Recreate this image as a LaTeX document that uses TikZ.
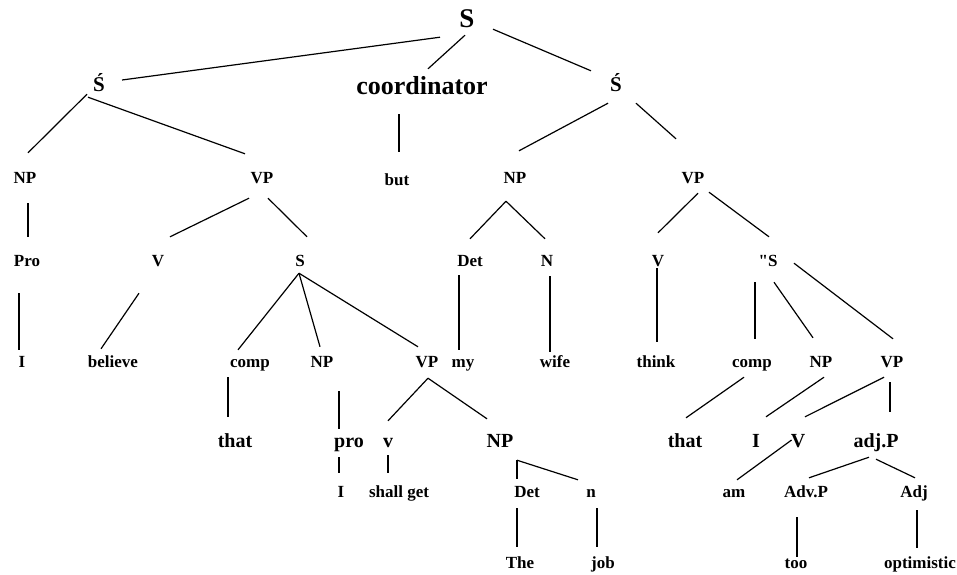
\documentclass[tikz,border=0pt]{standalone}
\usepackage{fontspec}
\setmainfont{Liberation Serif}
\newfontfamily\rawserif{Liberation Serif}
\tikzset{
  cat/.style={
    font=\bfseries\fontsize{17}{20}\selectfont,
    inner xsep=1pt, inner ysep=0pt,
    minimum height=34pt,
    text height=12pt, text depth=4pt
  },
  wordcat/.style={cat, font=\bfseries\fontsize{20}{24}\selectfont,
    text height=14pt, text depth=4pt},
  clausecat/.style={cat, font=\bfseries\fontsize{21}{25}\selectfont,
    text height=15pt, text depth=5pt},
  conjcat/.style={cat, font=\bfseries\fontsize{26}{30}\selectfont,
    text height=18pt, text depth=5pt},
  rootcat/.style={cat, font=\bfseries\fontsize{27}{32}\selectfont,
    text height=19pt, text depth=5pt},
  br/.style={line width=1.2pt, black},
}

\begin{document}
\begin{tikzpicture}[x=1pt,y=-1pt]
  \useasboundingbox (0,0) rectangle (957,574);

  % top levels
  \node (s0) [rootcat]   at (467,20) {S};
  \node (sl) [clausecat] at (99,86)  {Ś};
  \node (co) [conjcat]   at (422,88) {coordinator};
  \node (sr) [clausecat] at (616,86) {Ś};

  \node (npa) [cat] at (25,179)  {NP};
  \node (vpa) [cat] at (262,179) {VP};
  \node (but) [cat] at (397,181) {but};
  \node (npb) [cat] at (515,179) {NP};
  \node (vpb) [cat] at (693,179) {VP};

  \node (pro)  [cat] at (27,262)  {Pro};
  \node (va)   [cat] at (158,262) {V};
  \node (sa)   [cat] at (300,262) {S};
  \node (deta) [cat] at (470,262) {Det};
  \node (na)   [cat] at (547,262) {N};
  \node (vb)   [cat] at (658,262) {V};
  \node (sb)   [cat] at (768,262) {{\rawserif\bfseries\symbol{34}}S};

  \node (ia)    [cat] at (22,363)  {I};
  \node (bel)   [cat] at (113,363) {believe};
  \node (compa) [cat] at (250,363) {comp};
  \node (npc)   [cat] at (322,363) {NP};
  \node (vpc)   [cat] at (427,363) {VP};
  \node (my)    [cat] at (463,363) {my};
  \node (wife)  [cat] at (555,363) {wife};
  \node (think) [cat] at (656,363) {think};
  \node (compb) [cat] at (752,363) {comp};
  \node (npd)   [cat] at (821,363) {NP};
  \node (vpd)   [cat] at (892,363) {VP};

  \node (thata) [wordcat] at (235,442) {that};
  \node (prob)  [wordcat] at (349,442) {pro};
  \node (vc)    [wordcat] at (388,442) {v};
  \node (npe)   [wordcat] at (500,442) {NP};
  \node (thatb) [wordcat] at (685,442) {that};
  \node (ib)    [wordcat] at (756,442) {I};
  \node (vd)    [wordcat] at (798,442) {V};
  \node (adjp)  [wordcat] at (876,442) {adj.P};

  \node (ic)   [cat] at (341,493) {I};
  \node (shg)  [cat] at (399,493) {shall get};
  \node (detb) [cat] at (527,493) {Det};
  \node (nb)   [cat] at (591,493) {n};
  \node (am)   [cat] at (734,493) {am};
  \node (advp) [cat] at (806,493) {Adv.P};
  \node (adj)  [cat] at (914,493) {Adj};

  \node (the) [cat] at (520,564) {The};
  \node (job) [cat] at (603,564) {job};
  \node (too) [cat] at (796,564) {too};
  \node (opt) [cat] at (920,564) {optimistic};

  % branches
  \draw[br] ([shift={(-27,0)}]s0.south) -- ([shift={(16,-6)}]sl.east);
  \draw[br] ([shift={(-2,-2)}]s0.south) -- ([shift={(6,-2)}]co.north);
  \draw[br] ([shift={(26,-8)}]s0.south) -- ([shift={(-25,2)}]sr.north);

  \draw[br] ([shift={(-12,-9)}]sl.south) -- ([shift={(3,-9)}]npa.north);
  \draw[br] ([shift={(-11,-6)}]sl.south) -- ([shift={(-17,-8)}]vpa.north);
  \draw[br] ([shift={(-23,9)}]co.south) -- ([shift={(2,-12)}]but.north);
  \draw[br] ([shift={(-8,0)}]sr.south) -- ([shift={(4,-11)}]npb.north);
  \draw[br] ([shift={(20,0)}]sr.south) -- ([shift={(-17,-23)}]vpb.north);

  \draw[br] ([shift={(3,7)}]npa.south) -- ([shift={(1,-8)}]pro.north);
  \draw[br] ([shift={(-13,2)}]vpa.south) -- ([shift={(12,-8)}]va.north);
  \draw[br] ([shift={(6,2)}]vpa.south) -- ([shift={(7,-8)}]sa.north);
  \draw[br] ([shift={(-9,5)}]npb.south) -- ([shift={(0,-6)}]deta.north);
  \draw[br] ([shift={(-9,5)}]npb.south) -- ([shift={(-2,-6)}]na.north);
  \draw[br] ([shift={(5,-3)}]vpb.south) -- ([shift={(0,-12)}]vb.north);
  \draw[br] ([shift={(16,-4)}]vpb.south) -- ([shift={(1,-8)}]sb.north);

  \draw[br] ([shift={(-8,14)}]pro.south) -- ([shift={(-3,4)}]ia.north);
  \draw[br] ([shift={(-19,14)}]va.south) -- ([shift={(-12,3)}]bel.north);
  \draw[br] ([shift={(-1,-6)}]sa.south) -- ([shift={(-12,4)}]compa.north);
  \draw[br] ([shift={(-1,-6)}]sa.south) -- ([shift={(-2,1)}]npc.north);
  \draw[br] ([shift={(-1,-6)}]sa.south) -- ([shift={(-9,1)}]vpc.north);
  \draw[br] ([shift={(-11,-4)}]deta.south) -- ([shift={(-4,4)}]my.north);
  \draw[br] ([shift={(3,-3)}]na.south) -- ([shift={(-5,6)}]wife.north);
  \draw[br] ([shift={(-1,-11)}]vb.south) -- ([shift={(1,-4)}]think.north);
  \draw[br] ([shift={(-13,3)}]sb.south) -- ([shift={(3,-7)}]compb.north);
  \draw[br] ([shift={(6,3)}]sb.south) -- ([shift={(-8,-8)}]npd.north);
  \draw[br] ([shift={(26,-16)}]sb.south) -- ([shift={(1,-7)}]vpd.north);

  \draw[br] ([shift={(-22,-3)}]compa.south) -- ([shift={(-7,-8)}]thata.north);
  \draw[br] ([shift={(17,11)}]npc.south) -- ([shift={(-10,4)}]prob.north);
  \draw[br] ([shift={(1,-2)}]vpc.south) -- ([shift={(0,-4)}]vc.north);
  \draw[br] ([shift={(1,-2)}]vpc.south) -- ([shift={(-13,-6)}]npe.north);
  \draw[br] ([shift={(-8,-3)}]compb.south) -- ([shift={(1,-7)}]thatb.north);
  \draw[br] ([shift={(3,-3)}]npd.south) -- ([shift={(10,-8)}]ib.north);
  \draw[br] ([shift={(-8,-3)}]vpd.south) -- ([shift={(7,-8)}]vd.north);
  \draw[br] ([shift={(-2,2)}]vpd.south) -- ([shift={(14,-13)}]adjp.north);

  \draw[br] ([shift={(-10,-2)}]prob.south) -- ([shift={(-2,-3)}]ic.north);
  \draw[br] ([shift={(0,-4)}]vc.south) -- ([shift={(-11,-3)}]shg.north);
  \draw[br] ([shift={(17,1)}]npe.south) -- ([shift={(-10,3)}]detb.north);
  \draw[br] ([shift={(17,1)}]npe.south) -- ([shift={(-13,4)}]nb.north);
  \draw[br] ([shift={(2,-2)}]vd.west) -- ([shift={(3,4)}]am.north);
  \draw[br] ([shift={(-7,-2)}]adjp.south) -- ([shift={(3,2)}]advp.north);
  \draw[br] (adjp.south) -- ([shift={(1,2)}]adj.north);

  \draw[br] ([shift={(-10,-2)}]detb.south) -- ([shift={(-3,0)}]the.north);
  \draw[br] ([shift={(6,-2)}]nb.south) -- ([shift={(-6,0)}]job.north);
  \draw[br] ([shift={(-9,7)}]advp.south) -- ([shift={(1,10)}]too.north);
  \draw[br] ([shift={(3,0)}]adj.south) -- ([shift={(-3,1)}]opt.north);
\end{tikzpicture}
\end{document}
